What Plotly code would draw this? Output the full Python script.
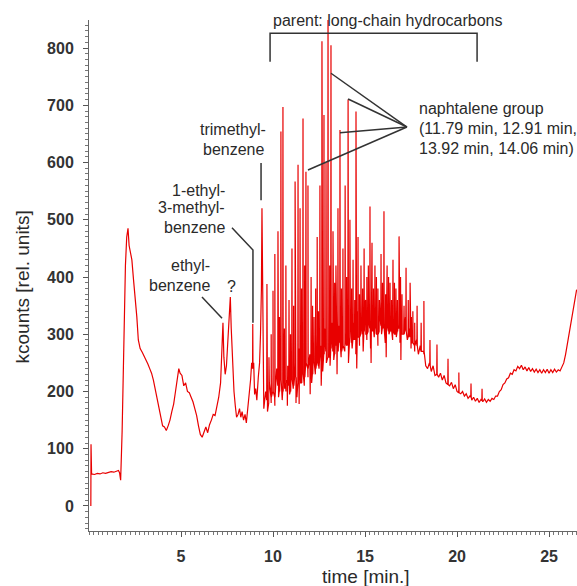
import plotly.graph_objects as go

# ---------------- data ----------------
# continuous trace (time [min], kcounts)
trace_early = [
    (0.10, 0), (0.11, 108), (0.14, 56), (0.30, 55), (0.45, 57), (0.60, 56), (0.75, 58),
    (0.90, 57), (1.05, 59), (1.20, 60), (1.35, 59), (1.50, 61), (1.60, 62), (1.66, 58),
    (1.72, 45), (1.80, 130), (1.90, 300), (1.98, 420), (2.05, 470), (2.12, 485), (2.18, 455),
    (2.25, 440), (2.33, 430), (2.42, 395), (2.50, 370), (2.60, 330), (2.68, 290), (2.78, 275),
    (2.90, 268), (3.00, 262), (3.10, 255), (3.20, 248), (3.30, 240), (3.40, 232), (3.50, 220),
    (3.60, 205), (3.70, 185), (3.80, 170), (3.90, 155), (4.00, 140), (4.10, 138), (4.20, 132),
    (4.30, 140), (4.40, 150), (4.50, 165), (4.60, 178), (4.70, 200), (4.80, 225), (4.88, 240),
    (4.95, 232), (5.05, 228), (5.15, 210), (5.25, 215), (5.35, 200), (5.45, 198), (5.55, 190),
    (5.65, 182), (5.75, 170), (5.85, 158), (5.95, 140), (6.05, 125), (6.15, 120), (6.25, 130),
    (6.35, 138), (6.45, 128), (6.55, 142), (6.65, 150), (6.75, 160), (6.85, 158), (6.95, 172),
    (7.05, 190), (7.15, 215), (7.22, 270), (7.28, 320), (7.33, 260), (7.40, 230), (7.47, 245),
    (7.55, 290), (7.62, 330), (7.68, 365), (7.73, 310), (7.80, 240), (7.88, 200), (7.95, 175),
    (8.02, 155), (8.10, 160), (8.18, 170), (8.25, 155), (8.32, 165), (8.40, 150), (8.48, 160),
    (8.55, 145), (8.62, 165), (8.70, 190), (8.78, 220), (8.84, 250), (8.90, 315), (8.95, 250),
    (9.00, 195), (9.06, 205), (9.12, 185), (9.20, 225), (9.27, 250), (9.32, 300), (9.37, 380),
    (9.40, 520), (9.43, 380), (9.47, 230),
]

trace_dense = [
    (9.5, 170), (9.6, 200), (9.7, 165), (9.8, 215), (9.9, 180), (10.0, 230), (10.1, 175),
    (10.2, 240), (10.3, 190), (10.4, 255), (10.5, 185), (10.6, 260), (10.7, 200), (10.8, 245),
    (10.9, 195), (11.0, 270), (11.1, 205), (11.2, 250), (11.3, 190), (11.4, 275), (11.5, 215),
    (11.6, 260), (11.7, 210), (11.8, 290), (11.9, 225), (12.0, 265), (12.1, 215), (12.2, 285),
    (12.3, 230), (12.4, 300), (12.5, 240), (12.6, 280), (12.7, 235), (12.8, 310), (12.9, 250),
    (13.0, 290), (13.1, 245), (13.2, 320), (13.3, 255), (13.4, 300), (13.5, 240), (13.6, 315),
    (13.7, 260), (13.8, 330), (13.9, 270), (14.0, 305), (14.1, 250), (14.2, 335), (14.3, 275),
    (14.4, 320), (14.5, 265), (14.6, 340), (14.7, 280), (14.8, 315), (14.9, 270), (15.0, 345),
    (15.1, 290), (15.2, 325), (15.3, 275), (15.4, 350), (15.5, 295), (15.6, 320), (15.7, 280),
    (15.8, 340), (15.9, 300), (16.0, 330), (16.1, 285), (16.2, 345), (16.3, 300), (16.4, 325),
    (16.5, 290), (16.6, 335), (16.7, 295), (16.8, 315), (16.9, 285), (17.0, 320), (17.1, 300),
    (17.2, 330), (17.3, 290), (17.4, 310), (17.5, 275), (17.6, 300), (17.7, 270), (17.8, 290),
    (17.9, 265), (18.0, 280), (18.1, 270), (18.2, 265), (18.3, 245),
]

trace_late = [
    (18.4, 240), (18.5, 250), (18.6, 235), (18.7, 245), (18.8, 228), (18.9, 238), (19.0, 225),
    (19.1, 232), (19.2, 220), (19.3, 228), (19.4, 215), (19.5, 222), (19.6, 210), (19.7, 216),
    (19.8, 205), (19.9, 212), (20.0, 200), (20.1, 206), (20.2, 196), (20.3, 200), (20.4, 192),
    (20.5, 196), (20.6, 188), (20.7, 192), (20.8, 185), (20.9, 190), (21.0, 183), (21.1, 188),
    (21.2, 181), (21.3, 186), (21.4, 182), (21.5, 187), (21.6, 181), (21.7, 186), (21.8, 183),
    (21.9, 188), (22.0, 186), (22.1, 192), (22.2, 192), (22.3, 200), (22.4, 203), (22.5, 212),
    (22.6, 215), (22.7, 222), (22.8, 224), (22.9, 232), (23.0, 230), (23.1, 238), (23.2, 236),
    (23.3, 244), (23.4, 240), (23.5, 246), (23.6, 238), (23.7, 243), (23.8, 236), (23.9, 242),
    (24.0, 235), (24.1, 240), (24.2, 234), (24.3, 239), (24.4, 233), (24.5, 238), (24.6, 232),
    (24.7, 238), (24.8, 233), (24.9, 239), (25.0, 232), (25.1, 238), (25.2, 233), (25.3, 239),
    (25.4, 234), (25.5, 238), (25.6, 236), (25.7, 242), (25.8, 250), (25.9, 265), (26.0, 285),
    (26.1, 300), (26.2, 320), (26.3, 345), (26.4, 365), (26.5, 378),
]

# sharp peaks: (retention time, apex kcounts, local base kcounts)
peaks = [
    (8.90, 318, 240), (9.67, 388, 185), (9.78, 260, 180), (9.90, 300, 190), (10.00, 376, 200),
    (10.10, 440, 190), (10.27, 480, 210), (10.35, 330, 200), (10.43, 654, 220), (10.54, 697, 200),
    (10.62, 310, 205), (10.70, 420, 215), (10.87, 360, 210), (10.95, 300, 200), (11.03, 450, 220),
    (11.12, 350, 210), (11.20, 567, 230), (11.36, 596, 215), (11.47, 520, 240), (11.55, 380, 215),
    (11.63, 677, 230), (11.72, 420, 225), (11.79, 584, 250), (11.90, 560, 240), (12.07, 400, 235),
    (12.15, 350, 230), (12.23, 330, 250), (12.32, 380, 240), (12.40, 470, 255), (12.47, 340, 245),
    (12.55, 560, 260), (12.66, 812, 250), (12.77, 683, 265), (12.88, 600, 270), (12.99, 880, 260),
    (13.08, 420, 260), (13.15, 805, 275), (13.26, 480, 270), (13.35, 390, 265), (13.42, 420, 280),
    (13.53, 520, 270), (13.64, 657, 285), (13.72, 380, 270), (13.80, 450, 280), (13.92, 560, 290),
    (14.00, 400, 280), (14.08, 710, 285), (14.18, 500, 295), (14.27, 380, 285), (14.35, 430, 290),
    (14.44, 360, 290), (14.51, 689, 300), (14.62, 470, 295), (14.70, 370, 295), (14.78, 420, 300),
    (14.87, 380, 300), (14.95, 450, 305), (15.03, 360, 300), (15.10, 400, 300), (15.18, 420, 305),
    (15.27, 523, 310), (15.38, 460, 305), (15.46, 380, 305), (15.54, 420, 310), (15.62, 400, 300),
    (15.70, 380, 300), (15.78, 360, 305), (15.87, 440, 315), (15.95, 390, 310), (16.03, 515, 310),
    (16.12, 370, 310), (16.20, 420, 315), (16.28, 400, 305), (16.36, 390, 305), (16.44, 360, 305),
    (16.52, 430, 310), (16.60, 390, 300), (16.68, 380, 300), (16.76, 360, 305), (16.85, 471, 310),
    (16.93, 400, 300), (17.01, 370, 300), (17.12, 350, 300), (17.23, 416, 305), (17.35, 360, 295),
    (17.45, 390, 295), (17.52, 330, 285), (17.60, 340, 285), (17.70, 320, 280), (17.83, 350, 280),
    (18.05, 320, 270), (18.20, 358, 270), (18.53, 290, 245), (18.91, 282, 230), (19.51, 257, 212),
    (20.10, 233, 198), (20.76, 214, 190), (21.36, 205, 184),
]

# short negative excursions inside the dense region: (time, low kcounts, local base)
dips = [
    (10.78, 175, 220), (11.25, 180, 225), (11.42, 178, 230), (12.02, 195, 240), (12.62, 210, 255),
    (13.48, 230, 275), (14.55, 240, 295), (15.33, 250, 300), (16.15, 260, 305), (16.95, 255, 300),
]

x_ticks = [5, 10, 15, 20, 25]
y_ticks = [0, 100, 200, 300, 400, 500, 600, 700, 800]

# ---------------- build trace ----------------
half_w = 0.012
pts = trace_early + trace_dense + trace_late
for t, top, base in peaks + dips:
    pts += [(t - half_w, base), (t, top), (t + half_w, base)]
pts.sort(key=lambda p: p[0])
time_min = [p[0] for p in pts]
kcounts = [p[1] for p in pts]

RED = "rgb(232,0,0)"
INK = "#2a2a2a"
FONT = "Liberation Sans, Arial, sans-serif"

fig = go.Figure()
fig.add_trace(go.Scatter(x=time_min, y=kcounts, mode="lines",
                         line=dict(color=RED, width=1.2), hoverinfo="skip",
                         showlegend=False))

# ---------------- annotation geometry (data coordinates) ----------------
line_style = dict(color="#333333", width=1.5)
shapes = [
    # bracket for long-chain hydrocarbons
    dict(type="path", path="M 9.84 776 L 9.84 826 L 21.09 826 L 21.09 776",
         xref="x", yref="y", line=line_style),
    # naphthalene pointers
    dict(type="line", x0=17.28, y0=662, x1=13.15, y1=756, xref="x", yref="y", line=line_style),
    dict(type="line", x0=17.28, y0=662, x1=14.08, y1=711, xref="x", yref="y", line=line_style),
    dict(type="line", x0=17.28, y0=662, x1=13.64, y1=652, xref="x", yref="y", line=line_style),
    dict(type="line", x0=17.28, y0=662, x1=11.90, y1=587, xref="x", yref="y", line=line_style),
    # trimethylbenzene leader
    dict(type="line", x0=9.35, y0=599, x1=9.35, y1=534, xref="x", yref="y", line=line_style),
    # 1-ethyl-3-methylbenzene leader
    dict(type="path", path="M 7.77 486 L 8.91 447 L 8.91 320",
         xref="x", yref="y", line=line_style),
    # ethylbenzene leader
    dict(type="line", x0=6.14, y0=365, x1=7.23, y1=328, xref="x", yref="y", line=line_style),
]

def txt(x, y, s, xanchor="center", size=16):
    return dict(x=x, y=y, xref="x", yref="y", text=s, showarrow=False,
                xanchor=xanchor, yanchor="middle",
                font=dict(family=FONT, size=size, color=INK))

annotations = [
    dict(x=16.2, y=1.0, xref="x", yref="paper", text="parent: long-chain hydrocarbons",
         showarrow=False, xanchor="center", yanchor="middle",
         font=dict(family=FONT, size=16, color=INK)),
    txt(17.85, 695, "naphtalene group", "left"),
    txt(17.85, 660, "(11.79 min, 12.91 min,", "left"),
    txt(17.85, 625, "13.92 min, 14.06 min)", "left"),
    txt(7.83, 657, "trimethyl-"),
    txt(7.83, 622, "benzene"),
    txt(7.50, 552, "1-ethyl-", "right"),
    txt(7.50, 521, "3-methyl-", "right"),
    txt(7.50, 487, "benzene", "right"),
    txt(6.68, 421, "ethyl-", "right"),
    txt(6.68, 386, "benzene", "right"),
    txt(7.72, 384, "?"),
    # axis titles
    dict(x=-0.137, y=382, xref="paper", yref="y", text="kcounts [rel. units]",
         textangle=-90, showarrow=False, xanchor="center", yanchor="middle",
         font=dict(family=FONT, size=19, color=INK)),
    dict(x=15.08, y=-0.09, xref="x", yref="paper", text="time [min.]",
         showarrow=False, xanchor="center", yanchor="middle",
         font=dict(family=FONT, size=19, color=INK)),
]

axis_common = dict(showline=True, linecolor="#666666", linewidth=1, showgrid=False,
                   zeroline=False, ticks="outside", ticklen=5, tickcolor="#555555",
                   tickfont=dict(family=FONT, size=16, color="#333333", weight="bold"))

fig.update_layout(
    width=577, height=586,
    margin=dict(l=89, r=0, t=20, b=55),
    paper_bgcolor="white", plot_bgcolor="white",
    xaxis=dict(range=[0, 26.52], tickmode="array", tickvals=x_ticks,
               minor=dict(ticks="outside", ticklen=3, dtick=0.25, tick0=0, tickcolor="#777777"),
               ticklabelstandoff=6, **axis_common),
    yaxis=dict(range=[-43.7, 849], tickmode="array", tickvals=y_ticks,
               minor=dict(ticks="outside", ticklen=3, dtick=10, tick0=0, tickcolor="#777777"),
               ticklabelstandoff=6, **axis_common),
    shapes=shapes, annotations=annotations,
)

# remove the default page margin so the figure sits at the window's top-left corner
fig.write_html("out.html", config={"displayModeBar": False},
               post_script="document.body.style.margin='0';document.body.style.overflow='hidden';")
